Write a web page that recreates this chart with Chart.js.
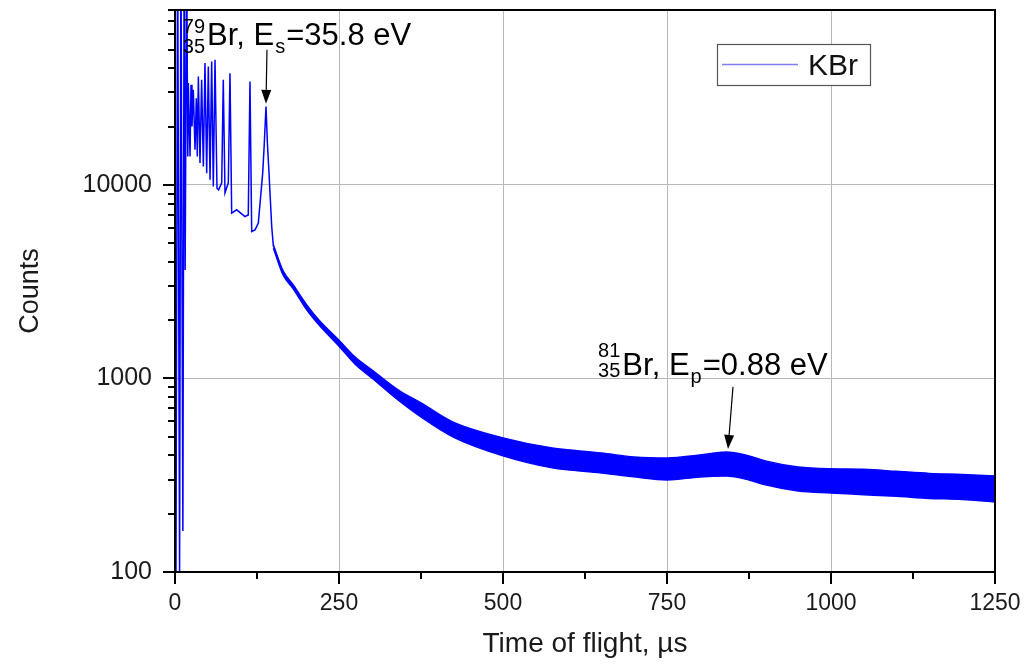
<!DOCTYPE html>
<html>
<head>
<meta charset="utf-8">
<script src="https://cdn.jsdelivr.net/npm/chart.js@4.4.0/dist/chart.umd.min.js"></script>
<style>
  body { margin: 0; background: #fff; }
  canvas { display: block; }
</style>
</head>
<body>
<canvas id="tofChart" width="1027" height="664"></canvas>
<script>
// KBr time-of-flight spectrum

// sharp peak region at the start of the spectrum
const peakTimes = [1.5, 4, 7, 9, 12, 14, 15.5, 17.8, 19.5, 20.3,
    22.9, 24.4, 25.9, 27.9, 30.5, 32.5, 34, 35.6, 38.1, 40.6,
    43.2, 45.7, 48.3, 50.8, 53.4, 55.9, 58.4, 61, 64, 66.5,
    71.2, 73.6, 76.2, 81.3, 83.8, 86.4, 94, 106.7, 111.7, 114.3,
    116.9, 122, 127, 133.7, 136, 138.7, 141, 142.8, 147.4, 150];
const peakCounts = [100, 200000, 100, 200000, 163, 200000, 3630, 150000, 14000, 33600,
    14000, 32900, 20000, 31000, 15200, 28000, 14000, 36300, 12950, 34900,
    12430, 42600, 11490, 40800, 10610, 43300, 9800, 44300, 9600, 9420,
    10240, 34900, 9090, 10240, 37700, 7140, 7430, 6860, 6980, 34200,
    5740, 5850, 6340, 11530, 16000, 25400, 16000, 12430, 6100, 4800];

// noisy tail: upper and lower edge of the band
const bandTimes = [150, 165, 180, 200, 220, 250, 275, 300, 340, 375, 425, 500, 575, 650,
    700, 750, 800, 840, 875, 900, 950, 1000, 1050, 1100, 1150, 1200, 1250];
const bandUpper = [4890, 3580, 3050, 2420, 1990, 1575, 1284, 1107, 872, 747, 592, 493, 437, 412,
    393, 388, 402, 417, 398, 375, 349, 341, 339, 331, 323, 319, 313];
const bandLower = [4710, 3410, 2910, 2280, 1880, 1467, 1181, 1006, 774, 632, 496, 398, 345, 325,
    310, 299, 310, 313, 299, 282, 262, 256, 251, 246, 240, 237, 230];

const xMajorTicks = [0, 250, 500, 750, 1000, 1250];
const xMinorTicks = [125, 375, 625, 875, 1125];
const yLabelledTicks = [100, 1000, 10000];

const FONT = '"Liberation Sans", Arial, sans-serif';
const BLUE = '#0000ff';

function toPoints(xs, ys) {
    return xs.map((t, i) => ({ x: t, y: ys[i] }));
}

function isDecade(v) {
    const l = Math.log10(v);
    return Math.abs(l - Math.round(l)) < 1e-9;
}

// annotations, anchored in data units
const notes = [
    { t: 11.9, v: 52900, mass: '79', z: '35', sub: 's', energy: '=35.8 eV', supRise: 12, subDrop: 8,
      arrowFrom: [140.2, 49900], arrowTo: [138.7, 26200] },
    { t: 645, v: 1042, mass: '81', z: '35', sub: 'p', energy: '=0.88 eV', supRise: 18, subDrop: 2,
      arrowFrom: [850.6, 904], arrowTo: [843, 432] }
];

function drawArrow(ctx, x1, y1, x2, y2) {
    const ang = Math.atan2(y2 - y1, x2 - x1);
    const head = 14, half = 5;
    const bx = x2 - head * Math.cos(ang), by = y2 - head * Math.sin(ang);
    ctx.beginPath();
    ctx.moveTo(x1, y1);
    ctx.lineTo(bx, by);
    ctx.stroke();
    ctx.beginPath();
    ctx.moveTo(x2, y2);
    ctx.lineTo(bx + half * Math.sin(ang), by - half * Math.cos(ang));
    ctx.lineTo(bx - half * Math.sin(ang), by + half * Math.cos(ang));
    ctx.closePath();
    ctx.fill();
}

const decorations = {
    id: 'decorations',
    afterDraw(chart) {
        const { ctx, chartArea: a, scales: { x, y } } = chart;
        ctx.save();

        // tick marks, outside the frame
        ctx.strokeStyle = '#000';
        ctx.lineWidth = 2;
        ctx.beginPath();
        xMajorTicks.concat(xMinorTicks).forEach(t => {
            const px = Math.round(x.getPixelForValue(t));
            const len = xMajorTicks.includes(t) ? 12 : 7;
            ctx.moveTo(px, a.bottom);
            ctx.lineTo(px, a.bottom + len);
        });
        for (let dec = 100; dec <= 10000; dec *= 10) {
            for (let m = 1; m <= 9; m++) {
                const v = dec * m;
                if (v > y.max) break;
                const py = Math.round(y.getPixelForValue(v));
                const len = m === 1 ? 12 : 7;
                ctx.moveTo(a.left - len, py);
                ctx.lineTo(a.left, py);
            }
        }
        ctx.stroke();
        ctx.strokeRect(a.left, a.top, a.right - a.left, a.bottom - a.top);

        // isotope labels and arrows
        ctx.fillStyle = '#000';
        ctx.textBaseline = 'alphabetic';
        ctx.textAlign = 'left';
        const big = '31px ' + FONT, small = '20px ' + FONT;
        notes.forEach(n => {
            const x0 = x.getPixelForValue(n.t);
            const base = y.getPixelForValue(n.v);
            ctx.font = small;
            ctx.fillText(n.mass, x0, base - n.supRise);
            ctx.fillText(n.z, x0, base + n.subDrop);
            let cx = x0 + Math.max(ctx.measureText(n.mass).width, ctx.measureText(n.z).width) + 2;
            ctx.font = big;
            ctx.fillText('Br, E', cx, base);
            cx += ctx.measureText('Br, E').width + 1;
            ctx.font = small;
            ctx.fillText(n.sub, cx, base + 8);
            cx += ctx.measureText(n.sub).width + 1;
            ctx.font = big;
            ctx.fillText(n.energy, cx, base);

            ctx.lineWidth = 1.2;
            drawArrow(ctx,
                x.getPixelForValue(n.arrowFrom[0]), y.getPixelForValue(n.arrowFrom[1]),
                x.getPixelForValue(n.arrowTo[0]), y.getPixelForValue(n.arrowTo[1]));
        });

        // legend box (top right of the plot area)
        const lx = a.right - 278, ly = a.top + 34;
        ctx.fillStyle = '#fff';
        ctx.fillRect(lx, ly, 153, 41);
        ctx.strokeStyle = '#555';
        ctx.lineWidth = 1.2;
        ctx.strokeRect(lx + 0.5, ly + 0.5, 153, 41);
        ctx.strokeStyle = 'rgba(40,40,230,0.6)';
        ctx.lineWidth = 1.5;
        ctx.beginPath();
        ctx.moveTo(lx + 5, ly + 20.5);
        ctx.lineTo(lx + 81, ly + 20.5);
        ctx.stroke();
        ctx.fillStyle = '#111';
        ctx.font = '30px ' + FONT;
        ctx.fillText(chart.data.datasets[0].label, lx + 91, ly + 31);

        ctx.restore();
    }
};

Chart.defaults.font.family = FONT;
Chart.defaults.color = '#1a1a1a';

const ctx = document.getElementById('tofChart').getContext('2d');
const chart = new Chart(ctx, {
    type: 'line',
    data: {
        datasets: [
            {
                label: 'KBr',
                data: toPoints(peakTimes, peakCounts),
                borderColor: BLUE,
                borderWidth: 1.5,
                pointRadius: 0,
                tension: 0,
                fill: false
            },
            {
                label: 'KBr upper',
                data: toPoints(bandTimes, bandUpper),
                borderColor: BLUE,
                backgroundColor: BLUE,
                borderWidth: 1.5,
                pointRadius: 0,
                cubicInterpolationMode: 'monotone',
                fill: '+1'
            },
            {
                label: 'KBr lower',
                data: toPoints(bandTimes, bandLower),
                borderColor: BLUE,
                borderWidth: 1.5,
                pointRadius: 0,
                cubicInterpolationMode: 'monotone',
                fill: false
            }
        ]
    },
    options: {
        responsive: false,
        animation: false,
        devicePixelRatio: 1,
        layout: { padding: { left: 0, right: 32, top: 10, bottom: 0 } },
        plugins: {
            legend: { display: false },
            tooltip: { enabled: false }
        },
        scales: {
            x: {
                type: 'linear',
                min: 0,
                max: 1250,
                afterFit: scale => {
                    scale.height = 92;
                    scale.paddingLeft = 0;
                    scale.paddingRight = 0;
                },
                ticks: {
                    stepSize: 250,
                    padding: 18,
                    font: { size: 23 },
                    maxRotation: 0,
                    callback: v => String(v)
                },
                grid: { color: '#b8b8b8', lineWidth: 1, drawTicks: false },
                border: { display: false },
                title: {
                    display: true,
                    text: 'Time of flight, \u00b5s',
                    font: { size: 28 },
                    padding: { top: 0, bottom: 3 }
                }
            },
            y: {
                type: 'logarithmic',
                min: 100,
                max: 80000,
                afterFit: scale => {
                    scale.width = 175;
                    scale.paddingTop = 0;
                    scale.paddingBottom = 0;
                },
                ticks: {
                    autoSkip: false,
                    padding: 23,
                    font: { size: 25 },
                    callback: v => (yLabelledTicks.includes(v) ? String(v) : '')
                },
                grid: {
                    color: c => (c.tick && isDecade(c.tick.value) ? '#b8b8b8' : 'rgba(0,0,0,0)'),
                    lineWidth: 1,
                    drawTicks: false
                },
                border: { display: false },
                title: {
                    display: true,
                    text: 'Counts',
                    font: { size: 27 },
                    padding: { top: 14, bottom: 0 }
                }
            }
        }
    },
    plugins: [decorations]
});
</script>
</body>
</html>
